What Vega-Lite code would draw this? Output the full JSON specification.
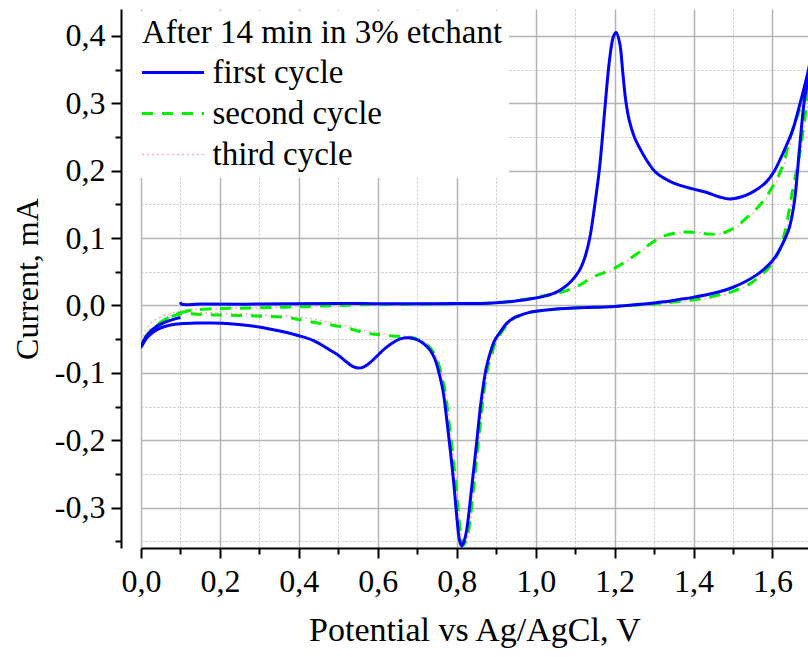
{
  "$schema": "https://vega.github.io/schema/vega-lite/v6.json",
  "width": 667,
  "height": 539,
  "autosize": {"type": "none"},
  "padding": {"left": 141, "top": 9, "right": 0, "bottom": 109},
  "background": "white",
  "config": {
    "view": {"stroke": null},
    "font": "Liberation Serif",
    "axis": {"labelFont": "Liberation Serif", "titleFont": "Liberation Serif"}
  },
  "datasets": {
    "first": [
      {"E":0.100,"I":0.005},{"E":0.103,"I":0.002},{"E":0.15,"I":0.002},{"E":0.3,"I":0.002},{"E":0.5,"I":0.003},{"E":0.6,"I":0.0025},{"E":0.7,"I":0.0025},{"E":0.8,"I":0.003},{"E":0.86,"I":0.003},{"E":0.9,"I":0.004},{"E":0.94,"I":0.006},{"E":0.97,"I":0.008},{"E":1.0,"I":0.011},{"E":1.03,"I":0.015},{"E":1.05,"I":0.019},{"E":1.07,"I":0.026},{"E":1.09,"I":0.036},{"E":1.11,"I":0.051},{"E":1.125,"I":0.072},{"E":1.137,"I":0.1},{"E":1.149,"I":0.146},{"E":1.162,"I":0.205},{"E":1.175,"I":0.29},{"E":1.187,"I":0.364},{"E":1.197,"I":0.399},{"E":1.204,"I":0.405},{"E":1.213,"I":0.389},{"E":1.221,"I":0.344},{"E":1.228,"I":0.305},{"E":1.237,"I":0.275},{"E":1.25,"I":0.25},{"E":1.265,"I":0.232},{"E":1.285,"I":0.212},{"E":1.305,"I":0.197},{"E":1.348,"I":0.182},{"E":1.398,"I":0.173},{"E":1.432,"I":0.168},{"E":1.466,"I":0.161},{"E":1.491,"I":0.158},{"E":1.52,"I":0.161},{"E":1.542,"I":0.166},{"E":1.565,"I":0.174},{"E":1.584,"I":0.183},{"E":1.602,"I":0.197},{"E":1.618,"I":0.215},{"E":1.635,"I":0.237},{"E":1.651,"I":0.26},{"E":1.67,"I":0.3},{"E":1.689,"I":0.344},{"E":1.7,"I":0.375},
      {"E":1.692,"I":0.34},{"E":1.681,"I":0.305},{"E":1.668,"I":0.23},{"E":1.656,"I":0.156},{"E":1.643,"I":0.116},{"E":1.626,"I":0.092},{"E":1.601,"I":0.067},{"E":1.559,"I":0.045},{"E":1.5,"I":0.027},{"E":1.45,"I":0.018},{"E":1.398,"I":0.012},{"E":1.365,"I":0.009},{"E":1.32,"I":0.005},{"E":1.28,"I":0.0025},{"E":1.2,"I":-0.0015},{"E":1.11,"I":-0.0035},{"E":1.06,"I":-0.005},{"E":1.01,"I":-0.008},{"E":0.98,"I":-0.011},{"E":0.959,"I":-0.015},{"E":0.943,"I":-0.019},{"E":0.926,"I":-0.027},{"E":0.913,"I":-0.037},{"E":0.896,"I":-0.052},{"E":0.885,"I":-0.07},{"E":0.875,"I":-0.092},{"E":0.862,"I":-0.141},{"E":0.85,"I":-0.206},{"E":0.837,"I":-0.275},{"E":0.825,"I":-0.334},{"E":0.818,"I":-0.351},{"E":0.812,"I":-0.357},{"E":0.806,"I":-0.345},{"E":0.801,"I":-0.319},{"E":0.791,"I":-0.255},{"E":0.778,"I":-0.186},{"E":0.765,"I":-0.126},{"E":0.755,"I":-0.1},{"E":0.745,"I":-0.08},{"E":0.732,"I":-0.066},{"E":0.715,"I":-0.056},{"E":0.695,"I":-0.05},{"E":0.673,"I":-0.048},{"E":0.655,"I":-0.05},{"E":0.639,"I":-0.055},{"E":0.62,"I":-0.063},{"E":0.605,"I":-0.071},{"E":0.58,"I":-0.085},{"E":0.565,"I":-0.091},{"E":0.55,"I":-0.093},{"E":0.535,"I":-0.09},{"E":0.521,"I":-0.084},{"E":0.5,"I":-0.074},{"E":0.478,"I":-0.066},{"E":0.436,"I":-0.052},{"E":0.4,"I":-0.045},{"E":0.352,"I":-0.038},{"E":0.31,"I":-0.033},{"E":0.26,"I":-0.029},{"E":0.225,"I":-0.027},{"E":0.18,"I":-0.026},{"E":0.141,"I":-0.026},{"E":0.1,"I":-0.027},{"E":0.075,"I":-0.029},{"E":0.056,"I":-0.032},{"E":0.035,"I":-0.038},{"E":0.015,"I":-0.048},{"E":0.0,"I":-0.062},
      {"E":0.012,"I":-0.047},{"E":0.025,"I":-0.038},{"E":0.04,"I":-0.031},{"E":0.06,"I":-0.025},{"E":0.08,"I":-0.021},{"E":0.1,"I":-0.018}
    ],
    "second": [
      {"E":0.1,"I":-0.011},{"E":0.13,"I":-0.007},{"E":0.18,"I":-0.005},{"E":0.25,"I":-0.004},{"E":0.33,"I":-0.003},{"E":0.4,"I":-0.002},{"E":0.5,"I":0.0},{"E":0.6,"I":0.0015},{"E":0.7,"I":0.002},{"E":0.8,"I":0.0025},{"E":0.86,"I":0.003},{"E":0.9,"I":0.004},{"E":0.94,"I":0.006},{"E":0.96,"I":0.008},{"E":1.0,"I":0.012},{"E":1.027,"I":0.015},{"E":1.055,"I":0.018},{"E":1.078,"I":0.022},{"E":1.1,"I":0.027},{"E":1.12,"I":0.033},{"E":1.137,"I":0.04},{"E":1.165,"I":0.047},{"E":1.196,"I":0.054},{"E":1.225,"I":0.064},{"E":1.255,"I":0.076},{"E":1.28,"I":0.087},{"E":1.305,"I":0.097},{"E":1.33,"I":0.104},{"E":1.36,"I":0.108},{"E":1.381,"I":0.109},{"E":1.41,"I":0.108},{"E":1.44,"I":0.106},{"E":1.46,"I":0.106},{"E":1.482,"I":0.109},{"E":1.51,"I":0.118},{"E":1.542,"I":0.134},{"E":1.565,"I":0.147},{"E":1.584,"I":0.161},{"E":1.6,"I":0.176},{"E":1.618,"I":0.196},{"E":1.632,"I":0.22},{"E":1.643,"I":0.245},{"E":1.655,"I":0.268},{"E":1.668,"I":0.29},{"E":1.685,"I":0.324},{"E":1.7,"I":0.355},
      {"E":1.692,"I":0.32},{"E":1.68,"I":0.27},{"E":1.666,"I":0.215},{"E":1.651,"I":0.171},{"E":1.634,"I":0.116},{"E":1.618,"I":0.082},{"E":1.592,"I":0.057},{"E":1.565,"I":0.042},{"E":1.542,"I":0.032},{"E":1.5,"I":0.021},{"E":1.474,"I":0.017},{"E":1.42,"I":0.01},{"E":1.348,"I":0.005},{"E":1.28,"I":0.0015},{"E":1.2,"I":-0.0015},{"E":1.11,"I":-0.0035},{"E":1.06,"I":-0.005},{"E":1.01,"I":-0.008},{"E":0.98,"I":-0.011},{"E":0.96,"I":-0.015},{"E":0.945,"I":-0.019},{"E":0.93,"I":-0.027},{"E":0.917,"I":-0.037},{"E":0.9,"I":-0.052},{"E":0.89,"I":-0.07},{"E":0.879,"I":-0.092},{"E":0.866,"I":-0.141},{"E":0.854,"I":-0.206},{"E":0.842,"I":-0.275},{"E":0.83,"I":-0.334},{"E":0.823,"I":-0.35},{"E":0.817,"I":-0.356},{"E":0.811,"I":-0.345},{"E":0.806,"I":-0.319},{"E":0.796,"I":-0.255},{"E":0.783,"I":-0.186},{"E":0.77,"I":-0.126},{"E":0.76,"I":-0.1},{"E":0.75,"I":-0.08},{"E":0.737,"I":-0.066},{"E":0.72,"I":-0.056},{"E":0.7,"I":-0.05},{"E":0.681,"I":-0.047},{"E":0.655,"I":-0.046},{"E":0.63,"I":-0.045},{"E":0.6,"I":-0.043},{"E":0.58,"I":-0.042},{"E":0.55,"I":-0.038},{"E":0.512,"I":-0.032},{"E":0.47,"I":-0.028},{"E":0.436,"I":-0.025},{"E":0.4,"I":-0.021},{"E":0.37,"I":-0.018},{"E":0.31,"I":-0.016},{"E":0.25,"I":-0.015},{"E":0.183,"I":-0.014},{"E":0.14,"I":-0.013},{"E":0.107,"I":-0.012},{"E":0.085,"I":-0.015},{"E":0.07,"I":-0.018},{"E":0.04,"I":-0.03},{"E":0.014,"I":-0.047},{"E":0.0,"I":-0.057},
      {"E":0.02,"I":-0.04},{"E":0.05,"I":-0.025},{"E":0.08,"I":-0.015},{"E":0.1,"I":-0.011}
    ],
    "third": [
      {"E":0.1,"I":-0.008},{"E":0.13,"I":-0.006},{"E":0.18,"I":-0.005},{"E":0.25,"I":-0.004},{"E":0.33,"I":-0.003},{"E":0.4,"I":-0.002},{"E":0.5,"I":0.0},{"E":0.6,"I":0.0015},{"E":0.7,"I":0.002},{"E":0.8,"I":0.0025},{"E":0.86,"I":0.003},{"E":0.9,"I":0.004},{"E":0.94,"I":0.006},{"E":0.96,"I":0.008},{"E":1.0,"I":0.011},{"E":1.03,"I":0.014},{"E":1.06,"I":0.018},{"E":1.08,"I":0.021},{"E":1.1,"I":0.026},{"E":1.12,"I":0.032},{"E":1.14,"I":0.039},{"E":1.17,"I":0.047},{"E":1.2,"I":0.054},{"E":1.23,"I":0.065},{"E":1.26,"I":0.077},{"E":1.285,"I":0.088},{"E":1.31,"I":0.098},{"E":1.335,"I":0.104},{"E":1.365,"I":0.108},{"E":1.385,"I":0.109},{"E":1.415,"I":0.108},{"E":1.445,"I":0.106},{"E":1.465,"I":0.106},{"E":1.487,"I":0.109},{"E":1.515,"I":0.118},{"E":1.546,"I":0.134},{"E":1.568,"I":0.147},{"E":1.588,"I":0.161},{"E":1.604,"I":0.176},{"E":1.622,"I":0.196},{"E":1.636,"I":0.22},{"E":1.647,"I":0.245},{"E":1.659,"I":0.268},{"E":1.672,"I":0.29},{"E":1.688,"I":0.324},{"E":1.7,"I":0.35},
      {"E":1.694,"I":0.32},{"E":1.682,"I":0.27},{"E":1.669,"I":0.215},{"E":1.655,"I":0.171},{"E":1.638,"I":0.116},{"E":1.622,"I":0.082},{"E":1.596,"I":0.057},{"E":1.569,"I":0.042},{"E":1.546,"I":0.032},{"E":1.504,"I":0.021},{"E":1.478,"I":0.016},{"E":1.42,"I":0.009},{"E":1.348,"I":0.004},{"E":1.28,"I":0.001},{"E":1.2,"I":-0.0015},{"E":1.11,"I":-0.0035},{"E":1.06,"I":-0.005},{"E":1.01,"I":-0.008},{"E":0.98,"I":-0.011},{"E":0.962,"I":-0.015},{"E":0.947,"I":-0.019},{"E":0.932,"I":-0.027},{"E":0.919,"I":-0.037},{"E":0.902,"I":-0.052},{"E":0.892,"I":-0.07},{"E":0.881,"I":-0.092},{"E":0.868,"I":-0.141},{"E":0.856,"I":-0.206},{"E":0.844,"I":-0.275},{"E":0.832,"I":-0.334},{"E":0.825,"I":-0.35},{"E":0.819,"I":-0.355},{"E":0.813,"I":-0.345},{"E":0.808,"I":-0.319},{"E":0.798,"I":-0.255},{"E":0.785,"I":-0.186},{"E":0.772,"I":-0.126},{"E":0.762,"I":-0.1},{"E":0.752,"I":-0.08},{"E":0.739,"I":-0.066},{"E":0.722,"I":-0.055},{"E":0.7,"I":-0.049},{"E":0.68,"I":-0.046},{"E":0.647,"I":-0.045},{"E":0.6,"I":-0.04},{"E":0.563,"I":-0.037},{"E":0.52,"I":-0.03},{"E":0.478,"I":-0.025},{"E":0.436,"I":-0.02},{"E":0.394,"I":-0.017},{"E":0.31,"I":-0.014},{"E":0.225,"I":-0.012},{"E":0.16,"I":-0.011},{"E":0.12,"I":-0.011},{"E":0.1,"I":-0.011},{"E":0.07,"I":-0.017},{"E":0.04,"I":-0.03},{"E":0.014,"I":-0.046},{"E":0.0,"I":-0.056},
      {"E":0.023,"I":-0.027},{"E":0.05,"I":-0.017},{"E":0.08,"I":-0.011},{"E":0.1,"I":-0.008}
    ]
  },
  "layer": [
    {
      "data": {"name": "third"},
      "mark": {"type": "line", "strokeWidth": 1.5, "strokeDash": [2, 3], "clip": true, "interpolate": "catmull-rom"},
      "encoding": {
        "x": {"field": "E", "type": "quantitative",
          "scale": {"domain": [0, 1.69], "nice": false, "zero": false},
          "axis": {"orient": "bottom", "values": [0.1,0.3,0.5,0.7,0.9,1.1,1.3,1.5], "grid": true, "gridDash": [2,2], "gridColor": "#c4c4c4", "gridWidth": 1, "labels": false, "domain": false, "ticks": true, "tickSize": 6, "tickWidth": 2, "tickColor": "black", "title": null, "zindex": 0}},
        "y": {"field": "I", "type": "quantitative",
          "scale": {"domain": [-0.36, 0.44], "nice": false, "zero": false},
          "axis": {"orient": "left", "offset": 20, "values": [-0.35,-0.25,-0.15,-0.05,0.05,0.15,0.25,0.35], "grid": true, "gridDash": [2,2], "gridColor": "#c4c4c4", "gridWidth": 1, "labels": false, "domain": false, "ticks": true, "tickSize": 6, "tickWidth": 2, "tickColor": "black", "title": null, "zindex": 0}},
        "order": {"value": null},
        "color": {"datum": "third cycle", "type": "nominal",
          "scale": {"domain": ["first cycle", "second cycle", "third cycle"], "range": ["#0000ff", "#00ee00", "#ffb0b0"]},
          "legend": {
            "title": "After 14 min in 3% etchant",
            "orient": "none", "legendX": -5, "legendY": 2,
            "padding": 6, "fillColor": "white", "strokeColor": null,
            "titleFont": "Liberation Serif", "titleFontSize": 33, "titleFontWeight": "normal", "titleColor": "black", "titlePadding": 6, "titleLimit": 700,
            "labelFont": "Liberation Serif", "labelFontSize": 33, "labelColor": "black", "labelOffset": 23, "labelLimit": 500,
            "symbolType": "M-2.07,0H2.07", "symbolSize": 900, "symbolOffset": 14.5, "symbolStrokeWidth": 3,
            "rowPadding": 7,
            "encode": {"symbols": {"update": {
              "strokeDash": {"signal": "datum.value === 'second cycle' ? [11, 9] : datum.value === 'third cycle' ? [2, 3] : []"},
              "strokeWidth": {"signal": "datum.value === 'third cycle' ? 1.5 : 3"}
            }}}
          }}
      }
    },
    {
      "data": {"name": "second"},
      "mark": {"type": "line", "strokeWidth": 3, "strokeDash": [11, 9], "clip": true, "interpolate": "catmull-rom"},
      "encoding": {
        "x": {"field": "E", "type": "quantitative",
          "axis": {"orient": "bottom", "values": [0,0.2,0.4,0.6,0.8,1.0,1.2,1.4,1.6], "grid": true, "gridColor": "#b4b4b4", "gridWidth": 1.5, "domain": true, "domainColor": "black", "domainWidth": 2, "ticks": true, "tickSize": 10, "tickWidth": 2, "tickColor": "black", "labelFontSize": 32, "labelColor": "black", "labelPadding": 8, "labelFlush": false, "labelOverlap": false, "labelBound": false, "labelExpr": "(datum.value < 0 ? '-' : '') + replace(format(abs(datum.value), '.1f'), '.', ',')", "title": "Potential vs Ag/AgCl, V", "titleFontSize": 34, "titleFontWeight": "normal", "titleColor": "black", "titlePadding": 16, "zindex": 0}},
        "y": {"field": "I", "type": "quantitative",
          "axis": {"orient": "left", "offset": 20, "values": [-0.3,-0.2,-0.1,0,0.1,0.2,0.3,0.4], "grid": true, "gridColor": "#b4b4b4", "gridWidth": 1.5, "domain": true, "domainColor": "black", "domainWidth": 2, "ticks": true, "tickSize": 10, "tickWidth": 2, "tickColor": "black", "labelFontSize": 32, "labelColor": "black", "labelPadding": 6, "labelFlush": false, "labelOverlap": false, "labelBound": false, "labelExpr": "(datum.value < 0 ? '-' : '') + replace(format(abs(datum.value), '.1f'), '.', ',')", "title": "Current, mA", "titleFontSize": 32, "titleFontWeight": "normal", "titleColor": "black", "titlePadding": 10, "zindex": 0}},
        "order": {"value": null},
        "color": {"datum": "second cycle", "type": "nominal"}
      }
    },
    {
      "data": {"name": "first"},
      "mark": {"type": "line", "strokeWidth": 3, "clip": true, "interpolate": "catmull-rom"},
      "encoding": {
        "x": {"field": "E", "type": "quantitative", "axis": null},
        "y": {"field": "I", "type": "quantitative", "axis": null},
        "order": {"value": null},
        "color": {"datum": "first cycle", "type": "nominal"}
      }
    }
  ],
  "resolve": {"axis": {"x": "independent", "y": "independent"}}
}
